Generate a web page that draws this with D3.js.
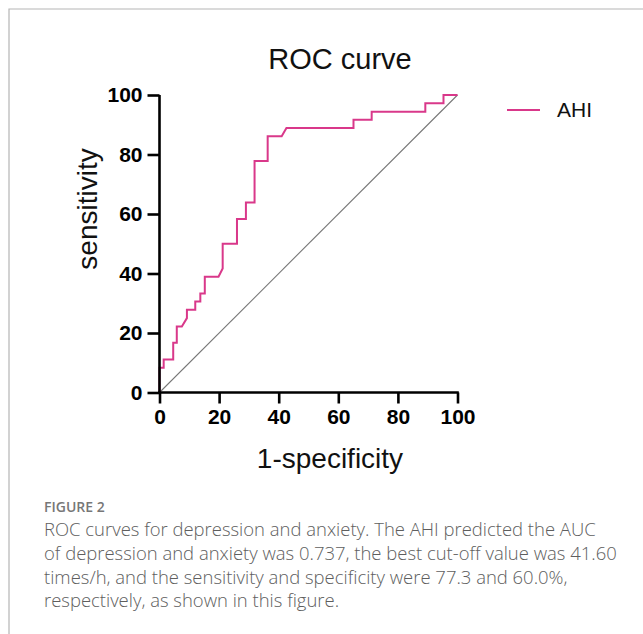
<!DOCTYPE html>
<html><head><meta charset="utf-8">
<script src="https://cdn.jsdelivr.net/npm/d3@7"></script>
<style>
html,body{margin:0;padding:0;background:#fff;}
svg{display:block;}
</style></head>
<body>
<svg id="chart" width="643" height="634"></svg>
<script>
// ---- data ----
const title = "ROC curve";
const xLabel = "1-specificity";
const yLabel = "sensitivity";
const seriesName = "AHI";
const ticks = [0, 20, 40, 60, 80, 100];
// ROC vertices (1-specificity %, sensitivity %)
const fpr = [0, 0, 1.4, 1.4, 4.6, 4.6, 5.8, 5.8, 7.5, 9.2, 9.2, 12.0, 12.0, 13.7, 13.7, 15.2, 15.2, 19.8, 21.2, 21.2, 26.0, 26.0, 29.0, 29.0, 31.9, 31.9, 36.3, 36.3, 41.0, 42.6, 65.1, 65.1, 71.2, 71.2, 89.2, 89.2, 95.3, 95.3, 100];
const tpr = [0, 8.3, 8.3, 11.1, 11.1, 16.7, 16.7, 22.2, 22.2, 25.0, 27.8, 27.8, 30.6, 30.6, 33.3, 33.3, 38.9, 38.9, 41.7, 50.0, 50.0, 58.3, 58.3, 63.9, 63.9, 77.8, 77.8, 86.1, 86.1, 88.9, 88.9, 91.7, 91.7, 94.4, 94.4, 97.2, 97.2, 100, 100];
const refLine = [0, 100];
const figLabel = "FIGURE 2";
const captionLines = [
  "ROC curves for depression and anxiety. The AHI predicted the AUC",
  "of depression and anxiety was 0.737, the best cut-off value was 41.60",
  "times/h, and the sensitivity and specificity were 77.3 and 60.0%,",
  "respectively, as shown in this figure."
];

// ---- drawing ----
const svg = d3.select("#chart");
const curveColor = "#d9388a";
const chartFont = "'Liberation Sans', Arial, Helvetica, sans-serif";

// frame
svg.append("path").attr("d", "M9,634 V9 H643").attr("fill", "none")
  .attr("stroke", "#b5b5b5").attr("stroke-width", 1.2);

const x = d3.scaleLinear().domain([0, 100]).range([159.5, 457.5]);
const y = d3.scaleLinear().domain([0, 100]).range([392.5, 95]);

// title
svg.append("text").attr("x", 340).attr("y", 69).attr("text-anchor", "middle")
  .attr("font-family", chartFont).attr("font-size", 29).attr("fill", "#111")
  .text(title);

// reference diagonal
svg.append("line")
  .attr("x1", x(refLine[0])).attr("y1", y(refLine[0]))
  .attr("x2", x(refLine[1])).attr("y2", y(refLine[1]))
  .attr("stroke", "#777").attr("stroke-width", 1.1);

// ROC curve
const pts = fpr.map((v, i) => [v, tpr[i]]);
svg.append("path").datum(pts)
  .attr("fill", "none").attr("stroke", curveColor).attr("stroke-width", 2)
  .attr("stroke-linejoin", "miter")
  .attr("d", d3.line().x(d => x(d[0])).y(d => y(d[1])));

// axes
const yAxis = svg.append("g").attr("transform", `translate(${x(0)},0)`)
  .call(d3.axisLeft(y).tickValues(ticks).tickSize(12).tickSizeOuter(0).tickPadding(5));
const xAxis = svg.append("g").attr("transform", `translate(0,${y(0)})`)
  .call(d3.axisBottom(x).tickValues(ticks).tickSize(11).tickSizeOuter(0).tickPadding(6));
[yAxis, xAxis].forEach(g => {
  g.select(".domain").attr("stroke", "#000").attr("stroke-width", 2.6);
  g.selectAll(".tick line").attr("stroke", "#000").attr("stroke-width", 2.6);
  g.selectAll(".tick text").attr("font-family", chartFont).attr("font-size", 21)
    .attr("font-weight", "bold").attr("fill", "#000");
});
// domains meet at the origin
yAxis.select(".domain").attr("d", `M0,${y(100)}V${y(0) + 1.3}`);
xAxis.select(".domain").attr("d", `M${x(0) - 1.3},0H${x(100) + 1.3}`);

// axis titles
svg.append("text").attr("x", 330).attr("y", 468).attr("text-anchor", "middle")
  .attr("font-family", chartFont).attr("font-size", 28).attr("fill", "#111")
  .text(xLabel);
svg.append("text").attr("transform", "translate(97,209) rotate(-90)")
  .attr("text-anchor", "middle").attr("font-family", chartFont)
  .attr("font-size", 28).attr("fill", "#111").text(yLabel);

// legend
svg.append("line").attr("x1", 507).attr("x2", 540).attr("y1", 110).attr("y2", 110)
  .attr("stroke", curveColor).attr("stroke-width", 2);
svg.append("text").attr("x", 557).attr("y", 117).attr("font-family", chartFont)
  .attr("font-size", 21).attr("fill", "#111").text(seriesName);

// caption
const capFont = "'Open Sans', Lato, 'Noto Sans', sans-serif";
svg.append("text").attr("x", 44).attr("y", 512).attr("font-family", capFont)
  .attr("font-size", 14).attr("font-weight", 600).attr("fill", "#777").text(figLabel);
const cap = svg.append("g");
const lineY = [536, 560, 584, 607];
const capTexts = cap.selectAll("text").data(captionLines).join("text")
  .attr("x", 44).attr("y", (d, i) => lineY[i])
  .attr("font-family", capFont).attr("font-weight", 300)
  .attr("font-size", 18).attr("fill", "#5e5e5e").text(d => d);
// fit font size so that line 2 spans to ~617px
const w = capTexts.nodes()[1].getComputedTextLength();
const fs = 18 * 573 / w;
capTexts.attr("font-size", fs);
</script>
</body></html>
